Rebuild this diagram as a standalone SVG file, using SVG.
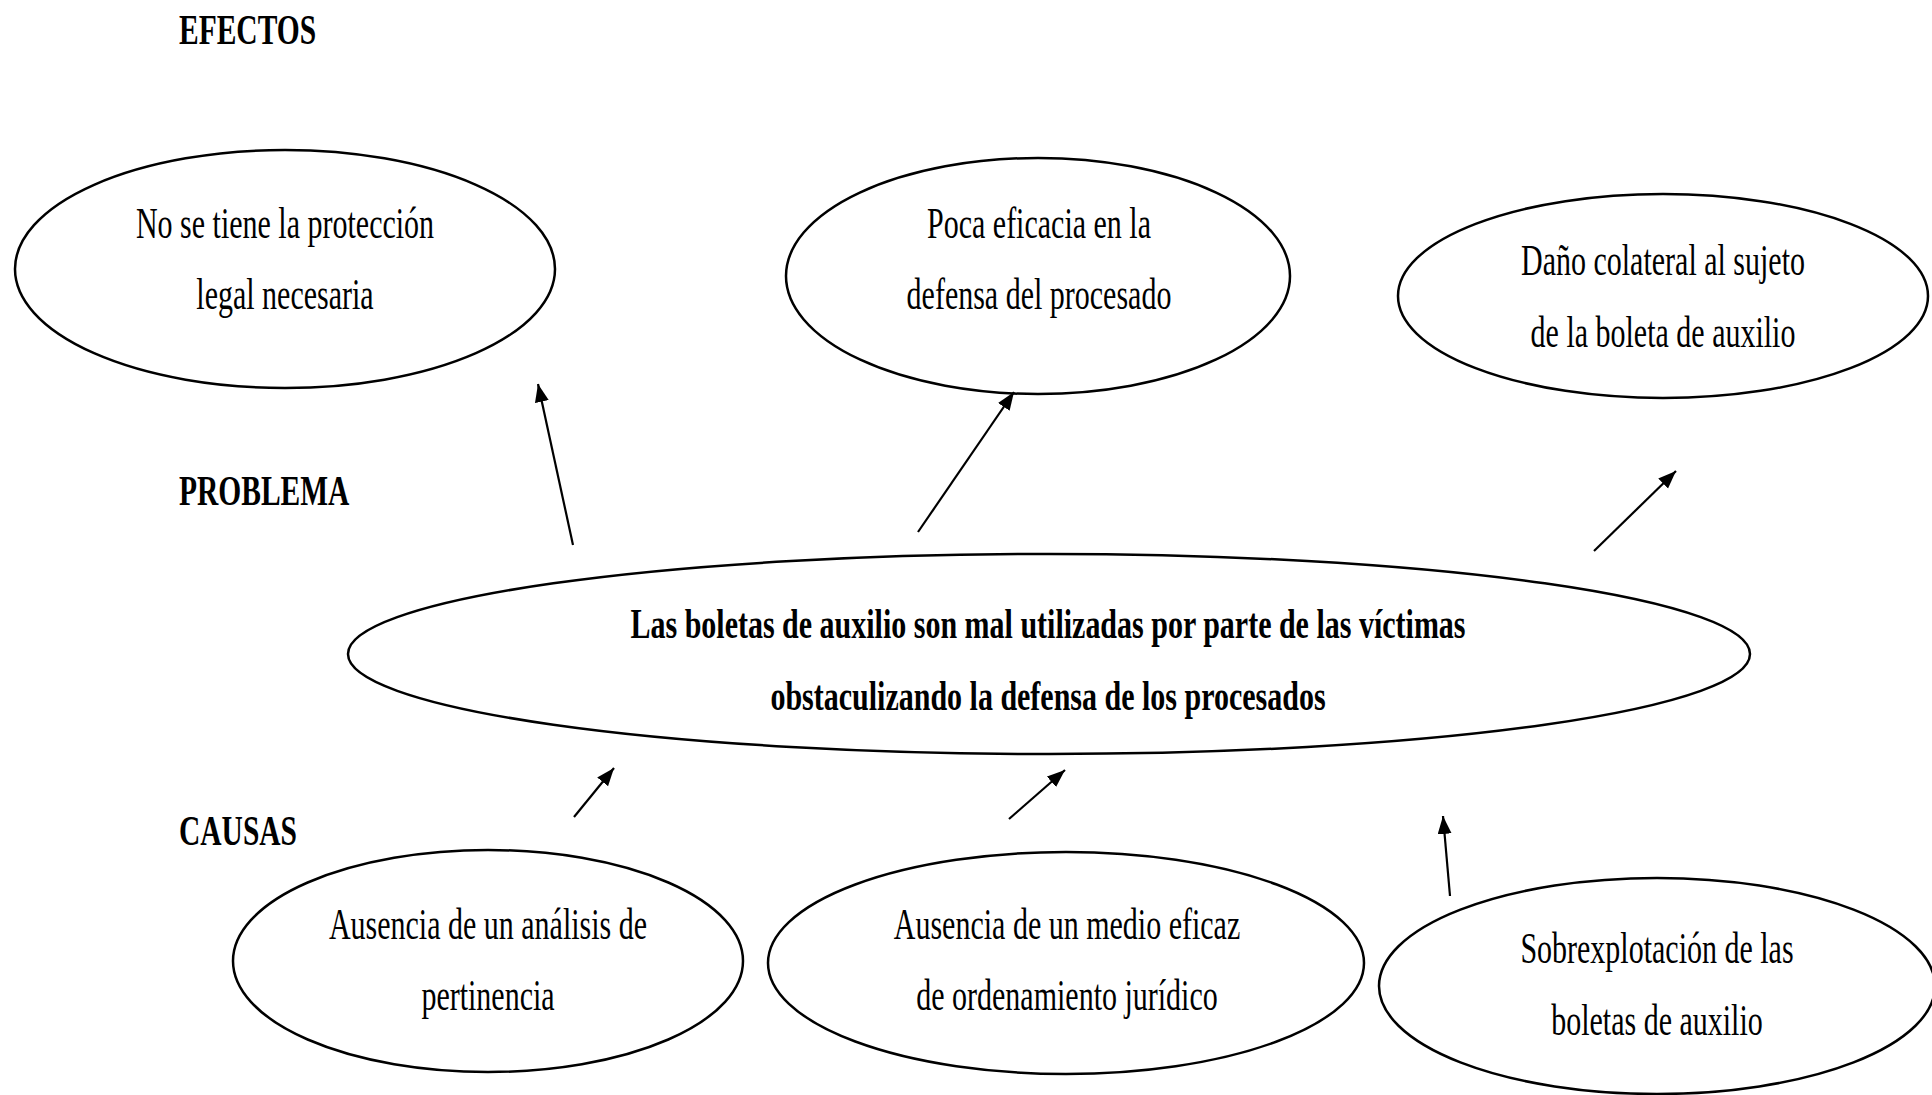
<svg xmlns="http://www.w3.org/2000/svg" width="1932" height="1095" viewBox="0 0 1932 1095">
<defs>
<marker id="ah" markerUnits="userSpaceOnUse" markerWidth="20" markerHeight="16" refX="18" refY="7" orient="auto">
<path d="M0,0 L18,7 L0,14 Z" fill="#000"/>
</marker>
</defs>
<style>
.n ellipse{fill:#fff;stroke:#000;stroke-width:2.5}
text{font-family:"Liberation Serif","Times New Roman",serif;fill:#000}
.t{font-size:30px;text-anchor:middle}
.b{font-size:30px;font-weight:bold;text-anchor:middle}
.h{font-size:29.5px;font-weight:bold}
.c line{stroke:#000;stroke-width:2.2;marker-end:url(#ah)}
</style>
<rect width="1932" height="1095" fill="#fff"/>
<g id="labels">
<text class="h" transform="translate(179,44) scale(1,1.45)">EFECTOS</text>
<text class="h" transform="translate(179,505) scale(1,1.45)">PROBLEMA</text>
<text class="h" transform="translate(179,845) scale(1,1.45)">CAUSAS</text>
</g>
<g id="e1" class="n">
<ellipse cx="285" cy="269" rx="270" ry="119"/>
<text class="t" transform="translate(285,238) scale(1,1.45)">No se tiene la protección</text>
<text class="t" transform="translate(285,309) scale(1,1.45)">legal necesaria</text>
</g>
<g id="e2" class="n">
<ellipse cx="1038" cy="276" rx="252" ry="118"/>
<text class="t" transform="translate(1039,238) scale(1,1.45)">Poca eficacia en la</text>
<text class="t" transform="translate(1039,309) scale(1,1.45)">defensa del procesado</text>
</g>
<g id="e3" class="n">
<ellipse cx="1663" cy="296" rx="265" ry="102"/>
<text class="t" transform="translate(1663,275) scale(1,1.45)">Daño colateral al sujeto</text>
<text class="t" transform="translate(1663,347) scale(1,1.45)">de la boleta de auxilio</text>
</g>
<g id="problem" class="n">
<ellipse cx="1049" cy="654" rx="701" ry="100"/>
<text class="b" transform="translate(1048,638) scale(1,1.4)">Las boletas de auxilio son mal utilizadas por parte de las víctimas</text>
<text class="b" transform="translate(1048,710) scale(1,1.4)">obstaculizando la defensa de los procesados</text>
</g>
<g id="c1" class="n">
<ellipse cx="488" cy="961" rx="255" ry="111"/>
<text class="t" transform="translate(488,939) scale(1,1.45)">Ausencia de un análisis de</text>
<text class="t" transform="translate(488,1010) scale(1,1.45)">pertinencia</text>
</g>
<g id="c2" class="n">
<ellipse cx="1066" cy="963" rx="298" ry="111"/>
<text class="t" transform="translate(1067,939) scale(1,1.45)">Ausencia de un medio eficaz</text>
<text class="t" transform="translate(1067,1010) scale(1,1.45)">de ordenamiento jurídico</text>
</g>
<g id="c3" class="n">
<ellipse cx="1657" cy="986" rx="278" ry="108"/>
<text class="t" transform="translate(1657,963) scale(1,1.45)">Sobrexplotación de las</text>
<text class="t" transform="translate(1657,1035) scale(1,1.45)">boletas de auxilio</text>
</g>
<g id="connectors" class="c">
<line x1="573" y1="545" x2="538" y2="384"/>
<line x1="918" y1="532" x2="1014" y2="392"/>
<line x1="1594" y1="551" x2="1676" y2="471"/>
<line x1="574" y1="817" x2="614" y2="768"/>
<line x1="1009" y1="819" x2="1065" y2="770"/>
<line x1="1450" y1="896" x2="1443" y2="816"/>
</g>
</svg>
